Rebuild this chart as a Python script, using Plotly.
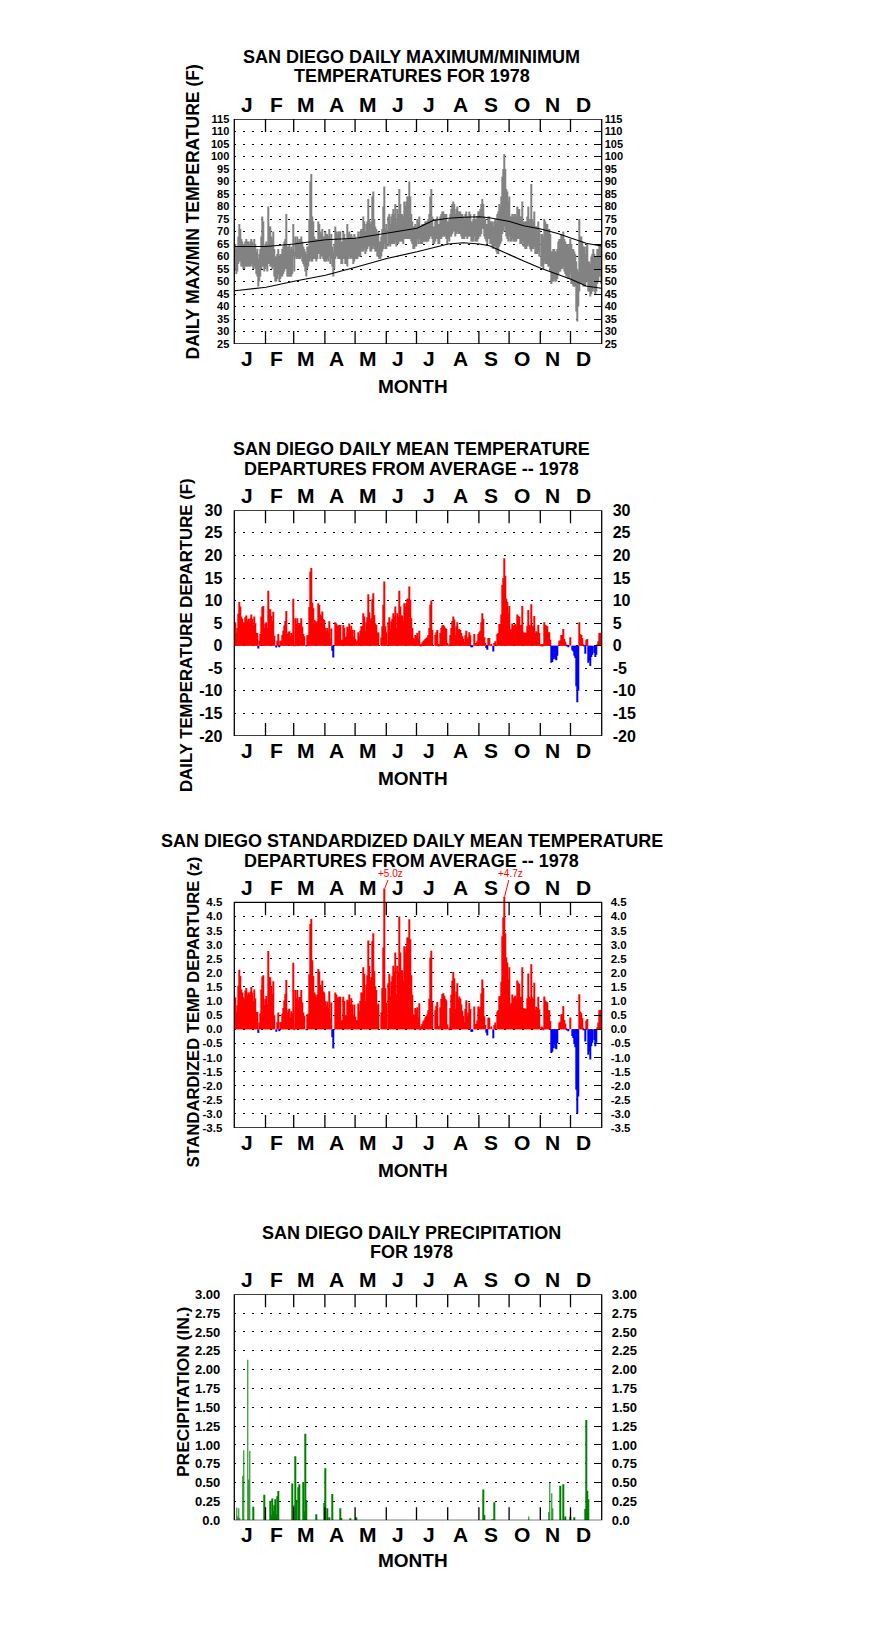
import plotly.graph_objects as go

# ---------------- DATA ----------------
MONTH_LETTERS = ["J", "F", "M", "A", "M", "J", "J", "A", "S", "O", "N", "D"]
MONTH_DAYS = [31, 28, 31, 30, 31, 30, 31, 31, 30, 31, 30, 31]

# daily maximum temperature (F), 1978
TMAX = [
    65, 63, 64, 68, 73, 71, 67, 66, 65, 65, 66, 67, 66, 66, 65, 66, 67, 66, 64, 67, 65, 62, 63, 59, 61, 63, 68, 76, 74, 64, 65,
    66, 65, 80, 72, 72, 68, 67, 70, 63, 60, 60, 61, 63, 60, 61, 61, 63, 64, 66, 67, 77, 64, 64, 65, 63, 64, 63, 73,
    62, 68, 66, 68, 66, 67, 67, 68, 66, 64, 63, 62, 61, 64, 64, 75, 90, 93, 76, 74, 68, 67, 67, 67, 74, 73, 70, 69, 71, 68, 68,
    70, 69, 69, 68, 71, 66, 69, 64, 62, 65, 72, 70, 69, 70, 70, 70, 66, 66, 70, 69, 67, 67, 73, 69, 70, 68, 69, 68, 67, 69,
    68, 67, 67, 70, 68, 70, 71, 71, 76, 74, 70, 73, 74, 83, 75, 73, 74, 84, 86, 75, 72, 71, 69, 70, 66, 66, 68, 71, 80, 88, 71,
    73, 76, 77, 73, 76, 77, 79, 77, 81, 74, 79, 77, 87, 81, 77, 77, 76, 82, 80, 82, 84, 84, 90, 84, 77, 74, 72, 72, 73, 72,
    75, 74, 76, 72, 72, 73, 73, 73, 74, 74, 74, 75, 77, 84, 87, 76, 72, 72, 75, 75, 76, 73, 73, 76, 77, 78, 78, 77, 77, 77, 74,
    74, 75, 77, 79, 81, 82, 81, 77, 79, 80, 78, 78, 78, 77, 77, 76, 75, 77, 78, 76, 76, 78, 77, 74, 74, 75, 77, 75, 75, 76, 78,
    78, 79, 81, 83, 81, 76, 75, 73, 73, 76, 76, 74, 74, 74, 72, 74, 75, 74, 77, 78, 81, 80, 84, 92, 95, 101, 95, 87, 86, 82,
    84, 76, 76, 77, 76, 77, 77, 76, 80, 79, 79, 76, 76, 82, 74, 74, 74, 74, 76, 80, 75, 75, 89, 75, 74, 78, 72, 72, 72, 74, 71,
    69, 69, 68, 75, 74, 73, 73, 71, 71, 69, 62, 62, 63, 63, 62, 62, 63, 66, 67, 67, 69, 68, 70, 67, 66, 65, 65, 64, 65, 67,
    65, 63, 63, 62, 61, 58, 55, 54, 75, 68, 68, 66, 64, 64, 61, 64, 65, 58, 58, 57, 60, 61, 63, 61, 60, 60, 63, 63, 65, 65, 62,
]
# daily minimum temperature (F), 1978
TMIN = [
    55, 53, 54, 57, 58, 58, 56, 56, 55, 55, 56, 56, 56, 56, 56, 56, 57, 56, 55, 56, 55, 53, 52, 48, 50, 52, 55, 56, 56, 54, 55,
    56, 54, 57, 57, 56, 56, 55, 56, 52, 50, 50, 51, 53, 50, 51, 52, 52, 53, 54, 55, 55, 52, 52, 52, 52, 52, 53, 60,
    54, 60, 59, 60, 59, 59, 59, 60, 58, 57, 56, 54, 52, 55, 56, 58, 59, 58, 58, 59, 59, 59, 58, 59, 61, 61, 59, 60, 60, 59, 58,
    58, 58, 59, 58, 60, 57, 59, 56, 52, 55, 59, 60, 60, 59, 59, 59, 57, 57, 59, 59, 57, 57, 56, 59, 60, 59, 60, 59, 57, 58,
    59, 59, 59, 60, 60, 60, 62, 62, 62, 63, 61, 62, 63, 64, 64, 62, 62, 63, 64, 63, 62, 62, 60, 60, 59, 59, 60, 62, 63, 65, 63,
    63, 64, 65, 64, 65, 65, 65, 65, 66, 64, 65, 65, 66, 66, 66, 66, 65, 67, 67, 67, 67, 67, 67, 67, 66, 65, 63, 63, 64, 64,
    67, 65, 67, 65, 65, 65, 66, 66, 66, 66, 66, 66, 67, 68, 68, 67, 65, 65, 66, 67, 67, 65, 65, 67, 67, 68, 68, 68, 68, 67, 65,
    67, 66, 68, 68, 69, 70, 70, 68, 69, 70, 69, 69, 69, 68, 67, 67, 67, 68, 68, 67, 68, 68, 68, 66, 66, 66, 68, 66, 66, 66, 67,
    68, 68, 69, 71, 71, 68, 67, 66, 65, 67, 67, 65, 65, 64, 63, 64, 64, 62, 61, 61, 64, 65, 66, 69, 70, 72, 70, 68, 67, 66,
    68, 66, 66, 67, 66, 66, 66, 66, 67, 67, 67, 65, 65, 66, 64, 64, 63, 63, 64, 65, 64, 63, 62, 63, 63, 64, 61, 61, 61, 62, 60,
    56, 56, 55, 58, 57, 57, 57, 56, 56, 54, 49, 50, 50, 51, 50, 50, 51, 53, 54, 54, 55, 55, 56, 54, 53, 52, 52, 51, 51, 53,
    49, 49, 48, 48, 48, 38, 34, 40, 46, 49, 49, 49, 48, 48, 48, 50, 50, 46, 46, 44, 45, 46, 48, 46, 45, 46, 49, 50, 52, 52, 49,
]
# normal max / min curves (day of year, F)
NORM_DAYS = [1, 32, 60, 91, 121, 152, 182, 198, 213, 228, 244, 254, 274, 288, 305, 321, 335, 350, 365]
NORM_MAX = [64, 64, 65, 66.7, 67.3, 69.2, 71.3, 74.4, 75.3, 75.7, 75.9, 75.5, 74, 72.3, 71, 69.3, 67.3, 65.3, 64.2]
NORM_MIN = [46.3, 47.7, 50.1, 52.5, 55.7, 59.2, 61.9, 63.5, 65, 65.5, 65, 64.3, 60.6, 58.2, 55.3, 52.8, 50.9, 48.2, 47.3]

# daily mean temperature departure (F)
DEPART = [
    5.2, 2.9, 3.9, 7.1, 9.7, 8.7, 6.5, 6.0, 5.2, 4.9, 6.3, 6.7, 5.5, 6.0, 5.6, 6.1, 6.9, 6.0, 4.6, 6.5, 5.0, 2.8, 2.8, -0.6, 1.1, 2.6, 6.5, 8.6, 8.8, 3.9, 4.9,
    5.2, 3.9, 12.2, 8.1, 8.1, 6.6, 5.5, 7.5, 2.2, 0.0, -0.4, 1.1, 2.6, -0.2, 1.1, 1.1, 2.4, 3.3, 4.5, 5.5, 7.7, 2.6, 3.0, 3.2, 1.9, 2.8, 2.5, 10.4,
    0.1, 6.1, 4.8, 6.1, 4.6, 5.0, 5.0, 6.1, 4.2, 2.6, 2.1, 0.0, -0.1, 2.3, 2.4, 8.6, 16.4, 17.2, 9.5, 8.3, 5.7, 5.4, 5.0, 5.4, 9.4, 9.0, 6.9, 6.6, 7.6, 5.9, 5.7,
    4.0, 3.3, 3.9, 3.0, 5.4, 1.5, 3.8, -1.1, -2.6, 0.0, 5.2, 4.9, 4.4, 4.5, 4.6, 4.6, 1.2, 1.3, 4.6, 4.0, 2.0, 2.0, 4.2, 3.9, 4.9, 3.5, 4.4, 3.5, 2.0, 3.5,
    1.5, 1.0, 1.1, 3.0, 2.1, 3.3, 4.3, 4.3, 7.2, 6.5, 3.3, 5.2, 6.3, 11.4, 7.4, 5.7, 6.1, 10.3, 11.6, 6.8, 5.0, 4.6, 2.8, 3.0, 0.0, 0.0, 1.8, 4.3, 9.1, 14.2, 4.3,
    3.0, 5.2, 6.3, 3.7, 5.4, 6.0, 7.2, 6.5, 8.7, 4.0, 7.2, 6.5, 12.2, 8.7, 6.7, 6.7, 5.5, 9.4, 8.7, 9.4, 10.4, 10.4, 13.1, 10.2, 6.1, 3.9, 1.7, 1.5, 2.4, 2.2,
    2.8, 1.5, 3.3, 0.2, 0.4, 0.7, 1.0, 1.2, 1.5, 1.7, 1.9, 2.4, 3.9, 9.1, 10.0, 3.5, 0.0, 0.0, 2.4, 3.0, 3.5, 0.4, 0.4, 2.8, 3.9, 4.5, 4.6, 4.3, 3.9, 3.7, 0.6,
    0.0, 0.2, 2.4, 3.9, 5.5, 6.5, 5.8, 2.3, 4.3, 5.2, 3.5, 3.7, 3.5, 2.8, 2.1, 1.5, 0.8, 2.3, 3.3, 1.5, 1.9, 3.0, 2.3, -0.3, -0.3, 0.0, 2.6, 0.6, 0.6, 1.0, 2.6,
    3.0, 3.3, 5.2, 7.2, 6.0, 1.9, 0.6, -0.5, -0.9, 1.7, 1.7, 0.0, 0.4, 0.0, -1.3, 0.6, 1.0, 0.0, 2.6, 2.8, 4.8, 4.8, 6.9, 13.5, 15.0, 19.4, 15.5, 10.4, 9.7, 7.2,
    8.8, 3.5, 3.7, 4.9, 4.3, 4.6, 4.8, 4.3, 6.9, 6.6, 6.4, 4.5, 4.6, 8.8, 3.0, 2.9, 2.9, 2.9, 4.4, 7.9, 4.6, 4.3, 9.2, 4.5, 4.3, 6.6, 2.8, 3.2, 3.0, 4.6, 2.8,
    0.4, 0.4, 0.2, 5.2, 4.6, 4.4, 4.3, 3.0, 3.0, 1.3, -3.8, -3.6, -3.0, -2.5, -3.0, -3.2, -2.2, 0.0, 1.1, 1.2, 2.4, 2.4, 3.7, 1.5, 0.9, 0.2, -0.1, -0.3, 0.0, 1.9,
    0.0, -1.0, -1.3, -2.2, -2.7, -9.0, -12.5, -10.0, 5.2, 2.6, 2.4, 1.7, 0.2, -0.1, -1.8, 1.3, 1.5, -3.8, -3.3, -4.5, -2.5, -2.0, 0.0, -1.6, -2.5, -2.0, 0.3, 1.0, 2.8, 2.9, 0.2,
]
# standardized daily mean temperature departure (z)
ZDEPART = [
    1.13, 0.63, 0.85, 1.54, 2.11, 1.89, 1.41, 1.30, 1.13, 1.07, 1.37, 1.46, 1.20, 1.30, 1.22, 1.33, 1.50, 1.30, 1.00, 1.41, 1.09, 0.61, 0.61, -0.13, 0.24, 0.57, 1.41, 1.87, 1.91, 0.85, 1.07,
    1.18, 0.89, 2.77, 1.84, 1.84, 1.50, 1.25, 1.70, 0.50, 0.00, -0.09, 0.25, 0.59, -0.05, 0.25, 0.25, 0.55, 0.75, 1.02, 1.25, 1.75, 0.59, 0.68, 0.73, 0.43, 0.64, 0.57, 2.36,
    0.02, 1.39, 1.09, 1.39, 1.05, 1.14, 1.14, 1.39, 0.95, 0.59, 0.48, 0.00, -0.02, 0.52, 0.55, 1.95, 3.73, 3.91, 2.45, 1.89, 1.30, 1.23, 1.14, 1.23, 2.14, 2.05, 1.57, 1.50, 1.73, 1.34, 1.30,
    1.00, 0.83, 0.98, 0.75, 1.35, 0.38, 0.95, -0.28, -0.68, 0.00, 1.30, 1.23, 1.10, 1.13, 1.15, 1.15, 0.30, 0.33, 1.15, 1.00, 0.50, 0.50, 1.05, 0.98, 1.23, 0.88, 1.10, 0.88, 0.50, 0.88,
    0.45, 0.30, 0.33, 0.91, 0.64, 1.00, 1.30, 1.30, 2.20, 1.97, 1.00, 1.58, 1.91, 3.15, 2.24, 1.73, 1.85, 3.12, 3.40, 2.06, 1.52, 1.39, 0.85, 0.91, 0.00, 0.00, 0.60, 1.45, 2.90, 5.00, 1.45,
    0.94, 1.63, 1.97, 1.16, 1.69, 1.88, 2.25, 2.03, 2.72, 1.25, 2.25, 2.03, 4.00, 2.72, 2.09, 2.09, 1.72, 2.94, 2.72, 2.94, 3.25, 3.25, 3.90, 3.19, 1.91, 1.22, 0.53, 0.47, 0.75, 0.69,
    0.78, 0.42, 0.92, 0.06, 0.11, 0.19, 0.28, 0.33, 0.42, 0.47, 0.53, 0.67, 1.08, 2.53, 2.78, 0.97, 0.00, 0.00, 0.67, 0.83, 0.97, 0.11, 0.11, 0.78, 1.08, 1.25, 1.28, 1.19, 1.08, 1.03, 0.17,
    0.00, 0.06, 0.75, 1.22, 1.72, 2.03, 1.81, 0.72, 1.34, 1.63, 1.09, 1.16, 1.09, 0.88, 0.66, 0.47, 0.25, 0.72, 1.03, 0.47, 0.59, 0.94, 0.72, -0.09, -0.09, 0.00, 0.81, 0.19, 0.19, 0.31, 0.81,
    0.73, 0.80, 1.27, 1.76, 1.46, 0.46, 0.15, -0.12, -0.22, 0.41, 0.41, 0.00, 0.10, 0.00, -0.32, 0.15, 0.24, 0.00, 0.63, 0.68, 1.17, 1.17, 1.68, 3.30, 3.96, 4.70, 3.40, 2.54, 2.37, 1.76,
    2.20, 0.88, 0.93, 1.23, 1.08, 1.15, 1.20, 1.08, 1.73, 1.65, 1.60, 1.13, 1.15, 2.20, 0.75, 0.73, 0.73, 0.73, 1.10, 1.98, 1.15, 1.08, 2.30, 1.13, 1.08, 1.65, 0.70, 0.80, 0.75, 1.15, 0.70,
    0.09, 0.09, 0.04, 1.16, 1.02, 0.98, 0.96, 0.67, 0.67, 0.29, -0.84, -0.80, -0.67, -0.56, -0.67, -0.71, -0.49, 0.00, 0.24, 0.27, 0.53, 0.53, 0.82, 0.33, 0.20, 0.04, -0.02, -0.07, 0.00, 0.42,
    0.00, -0.24, -0.31, -0.52, -0.64, -2.14, -2.98, -2.38, 1.24, 0.62, 0.57, 0.40, 0.05, -0.02, -0.43, 0.31, 0.36, -0.90, -0.79, -1.07, -0.60, -0.48, 0.00, -0.38, -0.60, -0.48, 0.07, 0.24, 0.67, 0.69, 0.05,
]
# daily precipitation (inches): day of year -> amount (days without rain are zero)
PRCP_DAYS = [3, 4, 5, 6, 9, 10, 14, 15, 16, 19, 30, 36, 37, 38, 39, 40, 41, 42, 43, 44,
             58, 59, 61, 62, 64, 65, 69, 70, 71, 72, 82, 90, 91, 93, 95, 98, 106, 107, 116, 122,
             248, 249, 257, 259, 293, 313, 314, 316, 317, 324, 327, 329, 334, 338, 349, 350, 351, 352]
PRCP_VALS = [0.17, 0.05, 0.16, 0.03, 0.59, 0.93, 2.13, 0.54, 0.92, 0.18, 0.34, 0.26, 0.07, 0.29, 0.12, 0.20, 0.28, 0.08, 0.32, 0.39,
             0.49, 0.20, 0.85, 0.27, 0.44, 0.48, 0.51, 0.12, 1.15, 0.27, 0.08, 0.23, 0.69, 0.16, 0.04, 0.35, 0.16, 0.03, 0.02, 0.04,
             0.41, 0.07, 0.01, 0.24, 0.05, 0.11, 0.50, 0.36, 0.16, 0.46, 0.48, 0.05, 0.05, 0.04, 0.15, 1.33, 0.39, 0.28]

# tick labels
T_TICKS = list(range(25, 120, 5))
D_TICKS = list(range(-20, 35, 5))
Z_TICKS = [-3.5, -3.0, -2.5, -2.0, -1.5, -1.0, -0.5, 0.0, 0.5, 1.0, 1.5, 2.0, 2.5, 3.0, 3.5, 4.0, 4.5]
P_TICKS = [0.0, 0.25, 0.5, 0.75, 1.0, 1.25, 1.5, 1.75, 2.0, 2.25, 2.5, 2.75, 3.0]
P_LABELS = ["0.0", "0.25", "0.50", "0.75", "1.00", "1.25", "1.50", "1.75", "2.00", "2.25", "2.50", "2.75", "3.00"]

assert len(TMAX) == 365 and len(TMIN) == 365 and len(DEPART) == 365 and len(ZDEPART) == 365
assert len(PRCP_DAYS) == len(PRCP_VALS)

# ---------------- FIGURE ----------------
W, H = 876, 1634
FONT = "Liberation Sans, Arial, sans-serif"
DAYS = list(range(1, 366))

starts = []
s = 0
for n in MONTH_DAYS:
    starts.append(s)
    s += n
BOUNDS = [st + 0.5 for st in starts[1:]]
CENTERS = [st + 0.5 + n / 2 for st, n in zip(starts, MONTH_DAYS)]

XL, XR = 234.3, 601.7


def pyf(p):
    return 1 - p / H


panels = [
    dict(top=119.0, bot=344.0, ymin=25, ymax=115, ext=115, ticks=T_TICKS, labels=[str(t) for t in T_TICKS],
         tfont=11, lstand=4, rstand=2,
         title=["SAN DIEGO DAILY MAXIMUM/MINIMUM", "TEMPERATURES FOR 1978"], ty=[57.3, 76.2],
         ytitle="DAILY MAX/MIN TEMPERATURE (F)", ytsize=17.5, ytx=192, yty=212.5, month_y=386.7),
    dict(top=510.3, bot=736.0, ymin=-20, ymax=30, ext=30, ticks=D_TICKS, labels=[str(t) for t in D_TICKS],
         tfont=16, lstand=11, rstand=10,
         title=["SAN DIEGO DAILY MEAN TEMPERATURE", "DEPARTURES FROM AVERAGE -- 1978"], ty=[449.0, 469.0],
         ytitle="DAILY TEMPERATURE DEPARTURE (F)", ytsize=16.8, ytx=186, yty=635, month_y=778.3),
    dict(top=902.3, bot=1128.0, ymin=-3.5, ymax=4.5, ext=5.0, ticks=Z_TICKS, labels=["%.1f" % t for t in Z_TICKS],
         tfont=11.5, lstand=11, rstand=8,
         title=["SAN DIEGO STANDARDIZED DAILY MEAN TEMPERATURE", "DEPARTURES FROM AVERAGE -- 1978"], ty=[840.7, 860.7],
         ytitle="STANDARDIZED TEMP DEPARTURE (z)", ytsize=16.6, ytx=193, yty=1012.5, month_y=1170),
    dict(top=1294.3, bot=1520.3, ymin=0, ymax=3, ext=3, ticks=P_TICKS, labels=P_LABELS,
         tfont=13, lstand=13, rstand=9,
         title=["SAN DIEGO DAILY PRECIPITATION", "FOR 1978"], ty=[1232.7, 1251.7],
         ytitle="PRECIPITATION (IN.)", ytsize=17.4, ytx=183, yty=1392, month_y=1560.7),
]

fig = go.Figure()
layout = dict(width=W, height=H, autosize=False,
              margin=dict(l=0, r=0, t=0, b=0, pad=0, autoexpand=False), paper_bgcolor="white",
              plot_bgcolor="white", showlegend=False, barmode="overlay")
shapes = []
annotations = []

for i, p in enumerate(panels, start=1):
    xs = "" if i == 1 else str(i)
    ax_x = "x" + xs
    ax_y = "y" + xs
    ax_y2 = "y" + str(i + 4)
    scale = (p["bot"] - p["top"]) / (p["ymax"] - p["ymin"])
    dom_top = p["top"] - (p["ext"] - p["ymax"]) * scale
    ydom = [pyf(p["bot"]), pyf(dom_top)]
    layout["xaxis" + xs] = dict(domain=[XL / W, XR / W], range=[0.5, 365.5], anchor=ax_y, automargin=False,
                                showticklabels=False, showgrid=False, zeroline=False, showline=False, ticks="")
    layout["yaxis" + xs] = dict(domain=ydom, range=[p["ymin"], p["ext"]], anchor=ax_x, automargin=False,
                                tickmode="array", tickvals=p["ticks"], ticktext=p["labels"],
                                showgrid=True, gridcolor="black", gridwidth=1, griddash="2px,7px",
                                zeroline=False, showline=False, ticks="", ticklabelstandoff=p["lstand"],
                                tickfont=dict(family=FONT, size=p["tfont"], color="black", weight="bold"))
    layout["yaxis" + str(i + 4)] = dict(overlaying=ax_y, side="right", anchor=ax_x, range=[p["ymin"], p["ext"]],
                                        automargin=False,
                                        tickmode="array", tickvals=p["ticks"], ticktext=p["labels"],
                                        showgrid=False, zeroline=False, showline=False,
                                        ticks="inside", ticklen=8, tickwidth=1.2, tickcolor="black",
                                        ticklabelstandoff=p["rstand"],
                                        tickfont=dict(family=FONT, size=p["tfont"], color="black", weight="bold"))
    # invisible trace so the right axis is drawn
    fig.add_trace(go.Scatter(x=[None], y=[None], xaxis=ax_x, yaxis=ax_y2, hoverinfo="skip"))

    # frame
    shapes.append(dict(type="rect", xref=ax_x + " domain", x0=0, x1=1, yref=ax_y, y0=p["ymin"], y1=p["ymax"],
                       line=dict(color="black", width=1.3), layer="above"))
    # month boundary ticks (inside, top and bottom)
    for b in BOUNDS:
        shapes.append(dict(type="line", xref=ax_x, x0=b, x1=b, yref=ax_y, ysizemode="pixel",
                           yanchor=p["ymax"], y0=0, y1=-13, line=dict(color="black", width=1.3), layer="above"))
        shapes.append(dict(type="line", xref=ax_x, x0=b, x1=b, yref=ax_y, ysizemode="pixel",
                           yanchor=p["ymin"], y0=0, y1=13, line=dict(color="black", width=1.3), layer="above"))
    # month letters top / bottom
    for c, m in zip(CENTERS, MONTH_LETTERS):
        for yv, sh in ((p["ymax"], 14.5), (p["ymin"], -14.5)):
            annotations.append(dict(x=c, y=yv, xref=ax_x, yref=ax_y, yshift=sh, xshift=-3, text=m,
                                    showarrow=False, xanchor="center", yanchor="middle",
                                    font=dict(family=FONT, size=21, color="black", weight="bold")))
    # titles
    for t, ty in zip(p["title"], p["ty"]):
        annotations.append(dict(x=411.5 / W, y=pyf(ty), xref="paper", yref="paper", text=t, showarrow=False,
                                xanchor="center", yanchor="middle",
                                font=dict(family=FONT, size=18, color="black", weight="bold")))
    annotations.append(dict(x=p["ytx"] / W, y=pyf(p["yty"]), xref="paper", yref="paper", text=p["ytitle"],
                            textangle=-90, showarrow=False, xanchor="center", yanchor="middle",
                            font=dict(family=FONT, size=p["ytsize"], color="black", weight="bold")))
    annotations.append(dict(x=413 / W, y=pyf(p["month_y"]), xref="paper", yref="paper", text="MONTH",
                            showarrow=False, xanchor="center", yanchor="middle",
                            font=dict(family=FONT, size=19, color="black", weight="bold")))

# panel 1: daily max/min bars + normals
fig.add_trace(go.Bar(x=DAYS, y=[a - b for a, b in zip(TMAX, TMIN)], base=TMIN, width=1.0,
                     marker=dict(color="#828282", line=dict(width=0)), xaxis="x", yaxis="y"))
fig.add_trace(go.Scatter(x=NORM_DAYS, y=NORM_MAX, mode="lines", line=dict(color="black", width=1.2),
                         xaxis="x", yaxis="y"))
fig.add_trace(go.Scatter(x=NORM_DAYS, y=NORM_MIN, mode="lines", line=dict(color="black", width=1.2),
                         xaxis="x", yaxis="y"))
# panel 2: departures
fig.add_trace(go.Bar(x=DAYS, y=DEPART, width=1.0,
                     marker=dict(color=["#FF0000" if v >= 0 else "#0000FF" for v in DEPART], line=dict(width=0)),
                     xaxis="x2", yaxis="y2"))
# panel 3: standardized departures (bars above the frame top are labelled)
fig.add_trace(go.Bar(x=DAYS, y=ZDEPART, width=1.0,
                     marker=dict(color=["#FF0000" if v >= 0 else "#0000FF" for v in ZDEPART], line=dict(width=0)),
                     xaxis="x3", yaxis="y3"))
z_label_level = panels[2]["ymax"] + (902.3 - 873.0) / ((1128.0 - 902.3) / 8.0)
for d, v in zip(DAYS, ZDEPART):
    if v > panels[2]["ymax"]:
        annotations.append(dict(x=d, y=v, xref="x3", yref="y3", text="+%.1fz" % v, showarrow=True,
                                arrowhead=0, arrowwidth=1, arrowcolor="#FF0000",
                                axref="pixel", ax=6, ayref="y3", ay=z_label_level, standoff=0,
                                font=dict(family=FONT, size=10, color="#FF0000")))
# panel 4: precipitation
fig.add_trace(go.Bar(x=PRCP_DAYS, y=PRCP_VALS, width=0.8,
                     marker=dict(color="#008000", line=dict(width=0)), xaxis="x4", yaxis="y4"))

layout["shapes"] = shapes
layout["annotations"] = annotations
fig.update_layout(**layout)
fig.write_html("out.html", config={"responsive": False, "displayModeBar": False},
               post_script="document.body.style.margin='0px';document.body.style.padding='0px';")
